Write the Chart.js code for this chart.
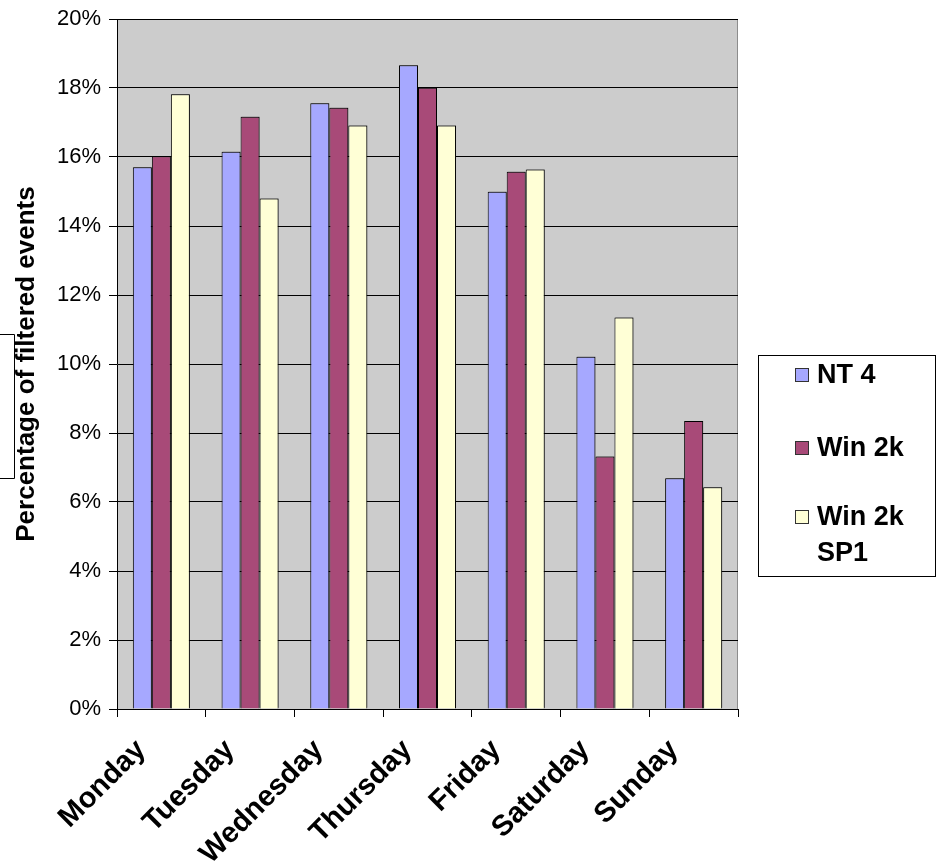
<!DOCTYPE html>
<html>
<head>
<meta charset="utf-8">
<script src="https://cdn.jsdelivr.net/npm/chart.js@4"></script>
<style>
  html, body { margin: 0; padding: 0; background: #fff; }
  #wrap { position: relative; width: 937px; height: 865px; }
</style>
</head>
<body>
<div id="wrap"><canvas id="chart" width="937" height="865"></canvas></div>
<script>
// data
const days = ['Monday', 'Tuesday', 'Wednesday', 'Thursday', 'Friday', 'Saturday', 'Sunday'];
const nt4 = [15.70, 16.15, 17.56, 18.66, 14.99, 10.21, 6.69];
const win2k = [16.02, 17.17, 17.43, 18.01, 15.57, 7.32, 8.35];
const win2kSp1 = [17.82, 14.80, 16.91, 16.91, 15.64, 11.35, 6.43];
const seriesNames = ['NT 4', 'Win 2k', 'Win 2k SP1'];
const seriesColors = ['#a6a8ff', '#a84a78', '#ffffd6'];

const FONT = '"Liberation Sans", Arial, sans-serif';

// grey plot background, bar shadow and the stray box at the far left
const backdrop = {
    id: 'backdrop',
    beforeDraw: function (chart) {
        const a = chart.chartArea;
        const ctx = chart.ctx;
        ctx.save();
        ctx.fillStyle = '#cccccc';
        ctx.fillRect(a.left, a.top, a.right - a.left, a.bottom - a.top);
        ctx.strokeStyle = '#8c8c8c';
        ctx.beginPath();
        ctx.moveTo(a.right - 0.5, a.top);
        ctx.lineTo(a.right - 0.5, a.bottom);
        ctx.stroke();
        ctx.restore();
    },
    beforeDatasetsDraw: function (chart) {
        const ctx = chart.ctx;
        ctx.save();
        ctx.shadowColor = 'rgba(0,0,0,0.35)';
        ctx.shadowOffsetX = 1;
        ctx.shadowOffsetY = -1;
        ctx.shadowBlur = 0;
    },
    afterDatasetsDraw: function (chart) {
        chart.ctx.restore();
    },
    afterDraw: function (chart) {
        const ctx = chart.ctx;
        ctx.save();
        ctx.strokeStyle = '#000';
        ctx.lineWidth = 1;
        ctx.beginPath();
        ctx.moveTo(0, 334.5);
        ctx.lineTo(14.5, 334.5);
        ctx.lineTo(14.5, 478.5);
        ctx.lineTo(0, 478.5);
        ctx.stroke();
        ctx.restore();
    }
};

// boxed legend on the right, labels wrapped like the original
const boxLegend = {
    id: 'boxLegend',
    afterDraw: function (chart) {
        const ctx = chart.ctx;
        const x = 758.5, y = 355.5, w = 177, h = 221;
        ctx.save();
        ctx.fillStyle = '#fff';
        ctx.fillRect(x, y, w, h);
        ctx.strokeStyle = '#000';
        ctx.lineWidth = 1;
        ctx.strokeRect(x, y, w, h);
        ctx.font = 'bold 27px ' + FONT;
        ctx.textBaseline = 'middle';
        const rows = [375, 448, 517];
        chart.data.datasets.forEach(function (ds, i) {
            const cy = rows[i];
            ctx.fillStyle = ds.backgroundColor;
            ctx.fillRect(795, cy - 7, 14, 14);
            ctx.strokeStyle = '#333';
            ctx.strokeRect(795.5, cy - 6.5, 13, 13);
            // simple word wrap
            const words = ds.label.split(' ');
            const lines = [];
            let line = '';
            words.forEach(function (wd) {
                const test = line ? line + ' ' + wd : wd;
                if (ctx.measureText(test).width > 112 && line) {
                    lines.push(line);
                    line = wd;
                } else {
                    line = test;
                }
            });
            lines.push(line);
            ctx.fillStyle = '#000';
            lines.forEach(function (l, j) {
                ctx.fillText(l, 817, cy + 1 + j * 36);
            });
        });
        ctx.restore();
    }
};

const ctx = document.getElementById('chart').getContext('2d');
new Chart(ctx, {
    type: 'bar',
    data: {
        labels: days,
        datasets: [nt4, win2k, win2kSp1].map(function (vals, i) {
            return {
                label: seriesNames[i],
                data: vals,
                backgroundColor: seriesColors[i],
                borderColor: '#000',
                borderWidth: 1,
                categoryPercentage: 0.643,
                barPercentage: 1.0
            };
        })
    },
    options: {
        responsive: false,
        animation: false,
        layout: { padding: { top: 19, right: 199, left: 0, bottom: 0 } },
        plugins: {
            legend: { display: false },
            tooltip: { enabled: false }
        },
        scales: {
            x: {
                grid: {
                    offset: true,
                    drawOnChartArea: false,
                    drawTicks: true,
                    tickLength: 8,
                    color: '#000'
                },
                border: { color: '#000', width: 1 },
                ticks: {
                    autoSkip: false,
                    minRotation: 45,
                    maxRotation: 45,
                    padding: 16,
                    labelOffset: -20,
                    color: '#000',
                    font: { family: FONT, size: 29, weight: 'bold' }
                },
                afterFit: function (s) {
                    s.height = 156;
                    s.paddingLeft = 0;
                    s.paddingRight = 0;
                }
            },
            y: {
                min: 0,
                max: 20,
                ticks: {
                    stepSize: 2,
                    padding: 8,
                    color: '#000',
                    font: { family: FONT, size: 22 },
                    callback: function (v) { return v + '%'; }
                },
                grid: { color: '#000', tickLength: 8, lineWidth: 1 },
                border: { color: '#000', width: 1 },
                title: {
                    display: true,
                    text: 'Percentage of filtered events',
                    color: '#000',
                    font: { family: FONT, size: 26, weight: 'bold' },
                    padding: { top: 11, bottom: 0 }
                },
                afterFit: function (s) {
                    s.width = 117;
                    s.paddingTop = 0;
                    s.paddingBottom = 0;
                }
            }
        }
    },
    plugins: [backdrop, boxLegend]
});
</script>
</body>
</html>
